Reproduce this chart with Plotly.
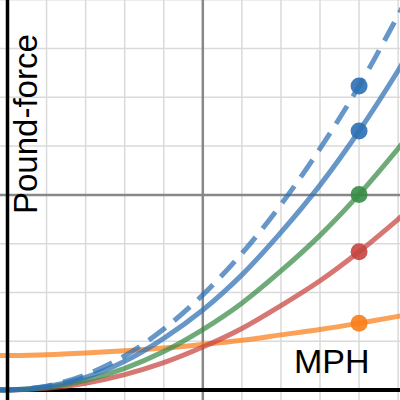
import plotly.graph_objects as go

mph = [-2, 0, 10, 20, 30, 40, 50, 60, 70, 80, 90, 100, 102]

# Force values (pound-force, grid line = 10)
blue_dashed = [0.03, 0, 0.8, 3.1, 7.0, 12.5, 19.5, 28.0, 38.0, 49.5, 62.3, 76.8, 79.8]
blue_solid = [0.03, 0, 0.66, 2.6, 5.9, 10.6, 16.4, 23.6, 32.3, 42.0, 53.1, 65.5, 68.2]
green = [0.02, 0, 0.5, 2.0, 4.45, 7.9, 12.4, 17.8, 24.4, 31.7, 40.1, 49.5, 51.5]
red = [0.015, 0, 0.35, 1.4, 3.15, 5.6, 8.8, 12.6, 17.3, 22.4, 28.35, 35.0, 36.4]
orange = [7.05, 7.07, 7.25, 7.6, 8.05, 8.6, 9.35, 10.2, 11.3, 12.4, 13.7, 15.1, 15.4]

# Highlighted points
point_mph = [90, 90, 90, 90, 90]
point_force = [62.3, 53.1, 40.1, 28.35, 13.7]

# Grid / axis positions
x_grid = [0, 10, 20, 30, 40, 50, 60, 70, 80, 90, 100]
y_grid = [0, 10, 20, 30, 40, 50, 60, 70, 80]
x_axis_at = 50
y_axis_at = 40

BLUE = "#2d70b3"
GREEN = "#388c46"
RED = "#c74440"
ORANGE = "#fa7e19"
point_colors = [BLUE, BLUE, GREEN, RED, ORANGE]

series = [
    (orange, ORANGE, "solid"),
    (red, RED, "solid"),
    (green, GREEN, "solid"),
    (blue_solid, BLUE, "solid"),
    (blue_dashed, BLUE, "21px,11px"),
]

fig = go.Figure()
for ys, col, dash in series:
    fig.add_trace(go.Scatter(
        x=mph, y=ys, mode="lines", line=dict(color=col, width=5, dash=dash, shape="spline"),
        opacity=0.72, hoverinfo="skip", showlegend=False,
    ))

fig.add_trace(go.Scatter(
    x=point_mph, y=point_force, mode="markers",
    marker=dict(size=17, color=point_colors, line=dict(width=0)),
    opacity=0.9, showlegend=False, hoverinfo="skip",
))

GRID = "#dadada"
shapes = []
for gx in x_grid:
    shapes.append(dict(type="line", xref="x", yref="paper", x0=gx, x1=gx, y0=0, y1=1,
                       line=dict(color=GRID, width=1.5), layer="below"))
for gy in y_grid:
    shapes.append(dict(type="line", xref="paper", yref="y", x0=0, x1=1, y0=gy, y1=gy,
                       line=dict(color=GRID, width=1.5), layer="below"))
shapes += [
    dict(type="line", xref="x", yref="paper", x0=x_axis_at, x1=x_axis_at, y0=0, y1=1,
         line=dict(color="#888888", width=2.5), layer="below"),
    dict(type="line", xref="paper", yref="y", x0=0, x1=1, y0=y_axis_at, y1=y_axis_at,
         line=dict(color="#888888", width=2.5), layer="below"),
    dict(type="line", xref="paper", yref="y", x0=0, x1=1, y0=0, y1=0,
         line=dict(color="black", width=4), layer="below"),
    dict(type="line", xref="x", yref="paper", x0=0, x1=0, y0=0, y1=1,
         line=dict(color="black", width=3.5), layer="above"),
]

fig.update_layout(
    width=400, height=400,
    margin=dict(l=0, r=0, t=0, b=0),
    paper_bgcolor="white", plot_bgcolor="rgba(0,0,0,0)",
    shapes=shapes,
    xaxis=dict(range=[-1.92, 100.48], showgrid=False, zeroline=False,
               showticklabels=False, ticks="", showline=False, fixedrange=True),
    yaxis=dict(range=[-2.05, 79.95], showgrid=False, zeroline=False,
               showticklabels=False, ticks="", showline=False, fixedrange=True),
    annotations=[
        dict(text="Pound-force", xref="paper", yref="paper", x=25 / 400, y=1 - 124 / 400,
             xanchor="center", yanchor="middle", textangle=-90, showarrow=False,
             font=dict(family="Liberation Sans, Arial", size=33, color="black")),
        dict(text="MPH", xref="paper", yref="paper", x=332 / 400, y=1 - 361 / 400,
             xanchor="center", yanchor="middle", showarrow=False,
             font=dict(family="Liberation Sans, Arial", size=34, color="black")),
    ],
)

fig.write_html("out.html", config={"displayModeBar": False},
               post_script="document.body.style.margin='0';document.body.style.overflow='hidden';")
